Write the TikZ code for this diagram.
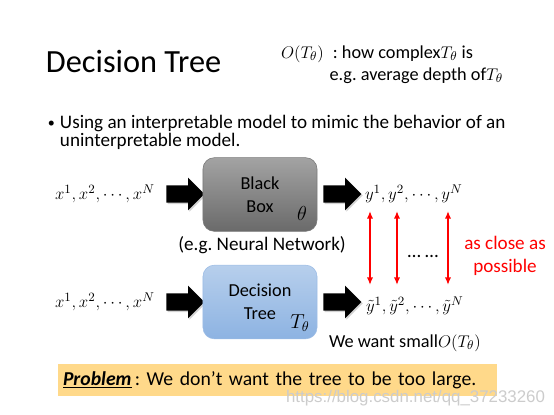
\documentclass[tikz,border=0pt]{standalone}
\usepackage{fontspec}
\setmainfont{Carlito}
\newfontfamily\wmfont{Liberation Sans}
\usetikzlibrary{positioning, shapes.arrows, shadows, arrows.meta}
\frenchspacing

\definecolor{bbtop}{HTML}{A3A3A3}
\definecolor{bbbot}{HTML}{6A6A6A}
\definecolor{bbline}{HTML}{7A7A7A}
\definecolor{dttop}{HTML}{B7CFEC}
\definecolor{dtbot}{HTML}{8DB3E2}
\definecolor{dtline}{HTML}{9CBCE5}
\definecolor{probfill}{HTML}{FFD98A}
\definecolor{closered}{HTML}{FF0000}

\tikzset{
  fatarrow/.style={
    single arrow, fill=black, inner xsep=0pt, inner ysep=0.21cm,
    minimum height=0.95cm, single arrow head extend=0.19cm,
    drop shadow={shadow xshift=1pt, shadow yshift=-1pt, opacity=0.35}
  },
  model/.style={
    draw=#1line, top color=#1top, bottom color=#1bot,
    rounded corners=8pt, minimum width=2.85cm, minimum height=1.84cm,
    align=center, font=\fontsize{13}{16.5}\selectfont
  },
  closer/.style={{Latex[length=5.5pt,width=4.5pt]}-{Latex[length=5.5pt,width=4.5pt]}, closered, line width=1.3pt},
  body/.style={font=\fontsize{13.6}{16}\selectfont},
  seq/.style={font=\fontsize{12.6}{15}\selectfont},
  note/.style={font=\fontsize{13}{15}\selectfont}
}

\begin{document}
\begin{tikzpicture}[x=0.025cm, y=-0.025cm, every node/.style={inner sep=0pt, outer sep=0pt}]
\useasboundingbox (0,0) rectangle (554,415);

%% Title and the complexity note
\node[anchor=base west, font=\fontsize{23}{27}\selectfont] (title) at (46,72) {Decision Tree};
\node[anchor=base west, note] (cplx) at (281,58) {$O(T_\theta)$\enspace: how complex$T_\theta$ is};
\node[anchor=base east, note] (depth) at (503,80) {e.g. average depth of$T_\theta$};

%% Bullet
\node[anchor=base west, font=\fontsize{10}{12}\selectfont] (dot) at (48,127) {\textbullet};
\node[anchor=base west, body] (line1) at (60,128) {Using an interpretable model to mimic the behavior of an};
\node[anchor=base west, body] (line2) at (60,146) {uninterpretable model.};

%% Black box row
\node[anchor=west, seq] (xa) at (55,194) {$x^1, x^2, \cdots, x^N$};
\node[fatarrow] (ina) at (181,194) {};
\node[model=bb] (bbox) at (260,194.5) {Black\\Box};
\node[body] (theta) at (302,213) {$\theta$};
\node[fatarrow] (outa) at (338,194) {};
\node[anchor=west, seq] (ya) at (365,194) {$y^1, y^2, \cdots, y^N$};
\node[anchor=base, body] (nn) at (262,250) {(e.g. Neural Network)};

%% Decision tree row
\node[anchor=west, seq] (xb) at (55,302) {$x^1, x^2, \cdots, x^N$};
\node[fatarrow] (inb) at (181,302) {};
\node[model=dt] (dtree) at (260,302) {Decision\\Tree};
\node[body] (ttheta) at (300,323) {$T_\theta$};
\node[fatarrow] (outb) at (338,302) {};
\node[anchor=west, seq] (yb) at (366,306) {$\tilde{y}^1, \tilde{y}^2, \cdots, \tilde{y}^N$};
\node[anchor=base west, note] (small) at (329,347) {We want small$O(T_\theta)$};

%% As close as possible
\foreach \n/\x in {1/370, 2/397, 3/448} {
  \coordinate (top\n) at (\x,211);
  \coordinate (bot\n) at (\x,285);
  \draw[closer] (top\n) -- (bot\n);
}
\node[body] (dots) at (423,256) {\dots\ \dots};
\node[body, text=closered, align=center] (close) at (505,256) {as close as\\possible};

%% Problem
\node[anchor=west, fill=probfill, text width=10.725cm, inner xsep=0.125cm,
  minimum height=0.8cm, align=left, font=\fontsize{14}{17}\selectfont] (prob) at (58,380)
  {\underline{\textbf{\textit{Problem}}}\,: We don’t want the tree to be too large.};

%% Watermark
\node[anchor=base east, font=\wmfont\fontsize{12}{14}\selectfont, text=gray!40] (wm) at (545,402) {https://blog.csdn.net/qq\_37233260};
\end{tikzpicture}
\end{document}
